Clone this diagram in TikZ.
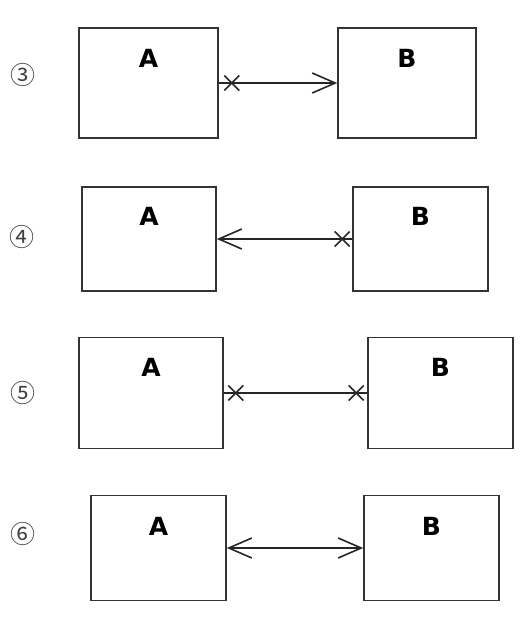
\documentclass[tikz,border=0pt]{standalone}
\usepackage{fontspec}
\setmainfont{DejaVu Sans}
\newfontfamily\cjk{Noto Sans CJK SC}
\usetikzlibrary{arrows.meta, shapes.misc, positioning}

\tikzset{
  box/.style={rectangle, draw=black!80, line width=1.6pt, inner sep=0pt},
  letter/.style={font=\fontsize{25}{30}\selectfont\bfseries, inner sep=0pt},
  num/.style={font=\cjk\fontsize{25}{30}\selectfont, text=black!75, inner sep=0pt},
  link/.style={draw=black!85, line width=1.6pt},
  crossmark/.style={cross out, draw=black!85, line width=1.6pt, minimum size=15pt, inner sep=0pt, outer sep=0pt}
}

\begin{document}
\begin{tikzpicture}[x=1pt, y=-1pt, >={Straight Barb[length=23pt, width=20pt]}]
        \useasboundingbox (0,0) rectangle (525,619);

        % row 3
        \node[num] (n3) at (23,75) {③};
        \node[box, minimum width=139pt, minimum height=110pt] (a3) at (148.5,83) {};
        \node[box, minimum width=138pt, minimum height=110pt] (b3) at (407,83) {};
        \node[letter] (a3t) at ([yshift=-31pt]a3.north) {A};
        \node[letter] (b3t) at ([yshift=-31pt]b3.north) {B};

        % row 4
        \node[num] (n4) at (22,237) {④};
        \node[box, minimum width=134pt, minimum height=104pt] (a4) at (149,239) {};
        \node[box, minimum width=135pt, minimum height=104pt] (b4) at (420.5,239) {};
        \node[letter] (a4t) at ([yshift=-30pt]a4.north) {A};
        \node[letter] (b4t) at ([yshift=-30pt]b4.north) {B};

        % row 5
        \node[num] (n5) at (23,393) {⑤};
        \node[box, minimum width=144pt, minimum height=111pt] (a5) at (151,393) {};
        \node[box, minimum width=145pt, minimum height=111pt] (b5) at (440.5,393) {};
        \node[letter] (a5t) at ([yshift=-31pt]a5.north) {A};
        \node[letter] (b5t) at ([yshift=-31pt]b5.north) {B};

        % row 6
        \node[num] (n6) at (23,534) {⑥};
        \node[box, minimum width=135pt, minimum height=105pt] (a6) at (158.5,548) {};
        \node[box, minimum width=135pt, minimum height=105pt] (b6) at (431.5,548) {};
        \node[letter] (a6t) at ([yshift=-32pt]a6.north) {A};
        \node[letter] (b6t) at ([yshift=-32pt]b6.north) {B};

        \draw[link, ->] (a3) -- node[crossmark, at start, xshift=13pt] (x3) {} (b3);
        \draw[link, <-] (a4) -- node[crossmark, at end, xshift=-10pt] (x4) {} (b4);
        \draw[link] (a5) -- node[crossmark, at start, xshift=12pt] (x5a) {}
                           node[crossmark, at end, xshift=-11pt] (x5b) {} (b5);
        \draw[link, <->] (a6) -- (b6);

    \end{tikzpicture}
\end{document}
